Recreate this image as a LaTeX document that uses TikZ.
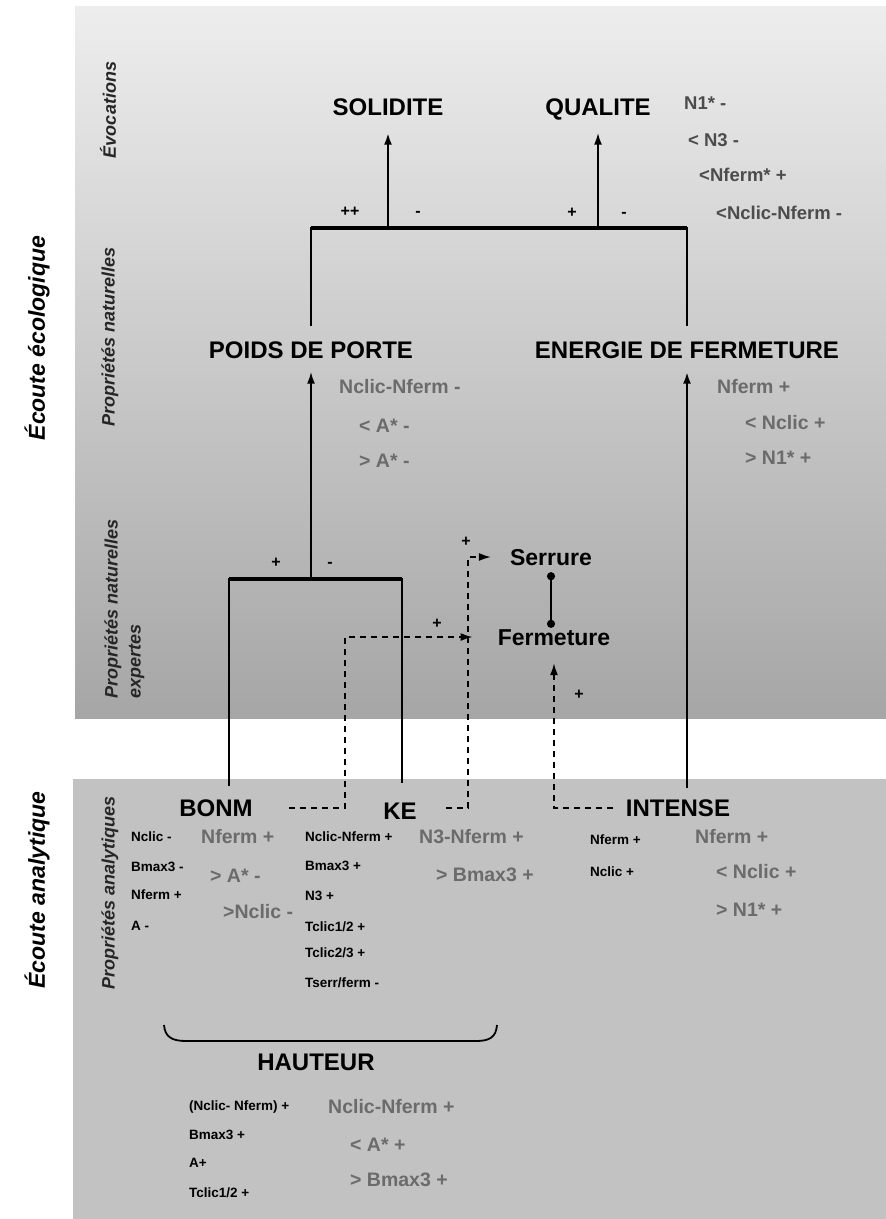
\documentclass[tikz,border=0pt]{standalone}
\usepackage{fontspec}
\setmainfont{Liberation Sans}
\usetikzlibrary{arrows.meta}

\tikzset{
  lbl/.style={font=\bfseries\fontsize{24}{28}\selectfont, inner sep=1pt, text height=17pt, text depth=0pt},
  sublbl/.style={font=\bfseries\fontsize{23}{27}\selectfont, inner sep=1pt, text height=16pt, text depth=0pt},
  darknote/.style={font=\bfseries\fontsize{18.5}{22}\selectfont, text=black!70, anchor=west, inner sep=0pt},
  greynote/.style={font=\bfseries\fontsize{19.5}{22}\selectfont, text=black!58, anchor=west, inner sep=0pt},
  blacknote/.style={font=\bfseries\fontsize{13.5}{16}\selectfont, anchor=west, inner sep=0pt},
  signlab/.style={font=\bfseries\fontsize{16}{18}\selectfont, inner sep=0pt},
  sidelab/.style={font=\bfseries\itshape\fontsize{18}{23}\selectfont, rotate=90, text=black!85},
  axislab/.style={font=\bfseries\itshape\fontsize{23}{27}\selectfont, rotate=90},
  arr/.style={-{Latex[length=12pt,width=8pt]}},
  dashlink/.style={dash pattern=on 6pt off 5pt, line width=1.5pt},
}

\begin{document}
\begin{tikzpicture}[x=1pt,y=-1pt]
	\useasboundingbox (0,0) rectangle (886,1219);
	\shade[top color=black!7, middle color=black!17, bottom color=black!35] (75,6) rectangle (886,718);
	\fill[black!24] (73,779) rectangle (886,1219);

	\node[axislab] (ecol) at (37,338) {Écoute écologique};
	\node[axislab] (anal) at (37,890) {Écoute analytique};
	\node[sidelab] (evoc) at (108,110) {Évocations};
	\node[sidelab] (natu) at (110,337) {Propriétés naturelles};
	\node[sidelab, align=left, anchor=north west] (expe) at (101,702) {Propriétés naturelles\\expertes};
	\node[sidelab] (anap) at (110,893) {Propriétés analytiques};

	\node[lbl] (solidite) at (388,107) {SOLIDITE};
	\node[lbl] (qualite) at (598,107) {QUALITE};
	\node[lbl] (poids) at (311,350) {POIDS DE PORTE};
	\node[lbl] (energie) at (687,350) {ENERGIE DE FERMETURE};
	\node[sublbl] (serrure) at (551,557) {Serrure};
	\node[sublbl] (fermeture) at (554,637) {Fermeture};
	\node[lbl] (bonm) at (216,808) {BONM};
	\node[lbl] (ke) at (400,811) {KE};
	\node[lbl] (intense) at (678,808) {INTENSE};
	\node[lbl] (hauteur) at (316,1062) {HAUTEUR};

	\node[darknote] (q1) at (684,103) {N1* -};
	\node[darknote] (q2) at (688,140) {< N3 -};
	\node[darknote] (q3) at (699,175) {<Nferm* +};
	\node[darknote] (q4) at (716,213) {<Nclic-Nferm -};

	\node[greynote] (p1) at (339,387) {Nclic-Nferm -};
	\node[greynote] (p2) at (359,426) {< A* -};
	\node[greynote] (p3) at (359,461) {> A* -};
	\node[greynote] (en1) at (717,387) {Nferm +};
	\node[greynote] (en2) at (745,423) {< Nclic +};
	\node[greynote] (en3) at (745,458) {> N1* +};

	\node[blacknote] (bo1) at (131,837) {Nclic -};
	\node[blacknote] (bo2) at (131,867) {Bmax3 -};
	\node[blacknote] (bo3) at (131,895) {Nferm +};
	\node[blacknote] (bo4) at (131,926) {A -};
	\node[greynote] (bg1) at (201,837) {Nferm +};
	\node[greynote] (bg2) at (210,876) {> A* -};
	\node[greynote] (bg3) at (223,912) {>Nclic -};

	\node[blacknote] (ke1) at (305,837) {Nclic-Nferm +};
	\node[blacknote] (ke2) at (305,866) {Bmax3 +};
	\node[blacknote] (ke3) at (305,896) {N3 +};
	\node[blacknote] (ke4) at (305,927) {Tclic1/2 +};
	\node[blacknote] (ke5) at (305,953) {Tclic2/3 +};
	\node[blacknote] (ke6) at (305,983) {Tserr/ferm -};
	\node[greynote] (kg1) at (419,837) {N3-Nferm +};
	\node[greynote] (kg2) at (436,875) {> Bmax3 +};

	\node[blacknote] (in1) at (590,840) {Nferm +};
	\node[blacknote] (in2) at (590,872) {Nclic +};
	\node[greynote] (ig1) at (695,837) {Nferm +};
	\node[greynote] (ig2) at (716,872) {< Nclic +};
	\node[greynote] (ig3) at (716,910) {> N1* +};

	\node[blacknote] (ha1) at (189,1107) {(Nclic- Nferm) +};
	\node[blacknote] (ha2) at (189,1135) {Bmax3 +};
	\node[blacknote] (ha3) at (189,1163) {A+};
	\node[blacknote] (ha4) at (189,1193) {Tclic1/2 +};
	\node[greynote] (hg1) at (328,1107) {Nclic-Nferm +};
	\node[greynote] (hg2) at (350,1145) {< A* +};
	\node[greynote] (hg3) at (350,1180) {> Bmax3 +};

	\node[signlab] (s1) at (350,212) {++};
	\node[signlab] (s2) at (418,214) {-};
	\node[signlab] (s3) at (572,213) {+};
	\node[signlab] (s4) at (624,215) {-};
	\node[signlab] (s5) at (276,563) {+};
	\node[signlab] (s6) at (330,565) {-};
	\node[signlab] (s7) at (466,542) {+};
	\node[signlab] (s8) at (437,624) {+};
	\node[signlab] (s9) at (579,695) {+};

	\coordinate (b1) at (311,228);
	\coordinate (b2) at (687,228);
	\draw[line width=2.5pt, shorten <=14pt, shorten >=14pt] (poids.north) -- (b1) -- (b2) -- (energie.north);
	\draw[line width=4pt] (b1) -- (b2);
	\draw[arr, line width=2.5pt, shorten >=16pt] (solidite |- b1) -- (solidite.south);
	\draw[arr, line width=2pt, shorten >=16pt] (qualite |- b1) -- (qualite.south);

	\coordinate (c1) at (229,579);
	\coordinate (c2) at (402,579);
	\draw[line width=1.5pt, shorten <=12pt, shorten >=18pt] (c1 |- bonm.north) -- (c1) -- (c2) -- (c2 |- ke.north);
	\draw[line width=4pt] (c1) -- (c2);
	\draw[arr, line width=2pt, shorten >=12pt] (poids |- c1) -- (poids.south);
	\draw[arr, line width=2.5pt, shorten <=10pt, shorten >=12pt] (energie |- intense.north) -- (energie.south);

	\coordinate (d0) at (289,808);
	\coordinate (d1) at (345,808);
	\draw[dashlink, arr, shorten >=24pt] (d0) -- (d1) |- (fermeture.west);
	\coordinate (e0) at (446,808);
	\coordinate (e1) at (468,808);
	\draw[dashlink, arr, shorten >=18pt] (e0) -- (e1) |- (serrure.west);
	\coordinate (f0) at (613,808);
	\coordinate (f1) at (554,808);
	\draw[dashlink, arr, shorten >=17pt] (f0) -- (f1) -- (fermeture.south);
	\draw[line width=2pt, {Circle[length=8pt]}-{Circle[length=8pt]}, shorten <=6pt] (serrure.south) -- (serrure.south |- fermeture.north);

	\draw[line width=1.8pt] (164,1025) .. controls (165,1037) and (172,1041) .. (186,1041) -- (476,1041) .. controls (490,1041) and (496,1037) .. (497,1025);
\end{tikzpicture}
\end{document}
